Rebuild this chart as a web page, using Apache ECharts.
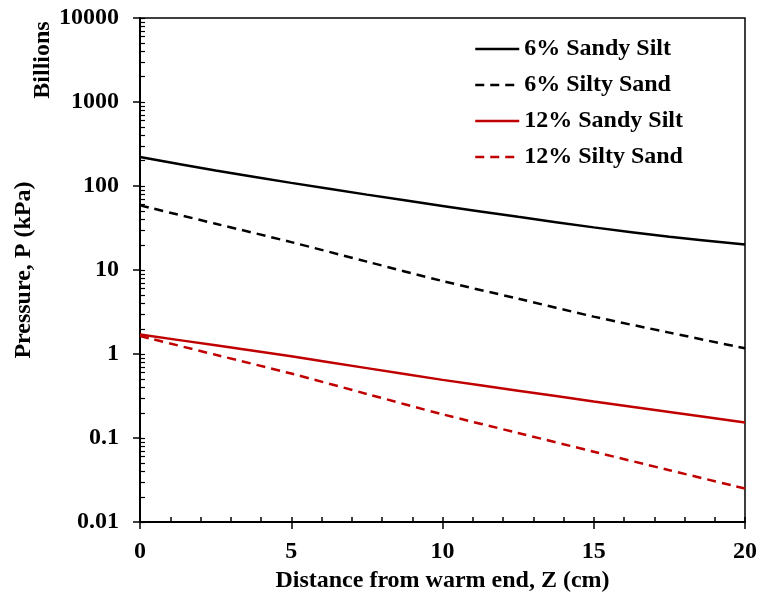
<!DOCTYPE html>
<html>
<head>
<meta charset="utf-8">
<script src="https://cdn.jsdelivr.net/npm/echarts@6/dist/echarts.min.js"></script>
<style>
html,body{margin:0;padding:0;background:#fff;}
#chart{width:760px;height:598px;}
</style>
</head>
<body>
<div id="chart"></div>
<script>
var zValues = [0, 2.5, 5, 7.5, 10, 12.5, 15, 17.5, 20];
var sandySilt6 = [221, 153, 109, 79, 58, 43, 32.2, 24.9, 20.1];
var siltySand6 = [58.9, 35.6, 21.5, 12.6, 7.4, 4.56, 2.79, 1.80, 1.17];
var sandySilt12 = [1.71, 1.27, 0.94, 0.68, 0.493, 0.367, 0.273, 0.205, 0.153];
var siltySand12 = [1.64, 0.98, 0.586, 0.335, 0.192, 0.115, 0.0689, 0.0415, 0.0251];
var seriesNames = ['6% Sandy Silt', '6% Silty Sand', '12% Sandy Silt', '12% Silty Sand'];
var xTicks = [0, 5, 10, 15, 20];
var yTicks = [0.01, 0.1, 1, 10, 100, 1000, 10000];
var yTickLabels = ['0.01', '0.1', '1', '10', '100', '1000', '10000'];

var FONT = 'Liberation Serif';
var FS = 24;
var RED = '#C00000';

function pairs(vals) {
  return zValues.map(function (z, i) { return [z, vals[i]]; });
}

var yMinor = [];
for (var e = -2; e < 4; e++) {
  for (var m = 1; m <= 9; m++) {
    yMinor.push(+(m * Math.pow(10, e)).toPrecision(6));
  }
}
yMinor.push(10000);
var xMinor = [];
for (var k = 0; k <= 20; k++) xMinor.push(k);

var chart = echarts.init(document.getElementById('chart'), null, {renderer: 'canvas'});

function mkSeries(name, vals, color, dashed) {
  return {
    name: name,
    type: 'line',
    data: pairs(vals),
    symbol: 'none',
    smooth: 0.3,
    xAxisIndex: 0,
    yAxisIndex: 0,
    lineStyle: {color: color, width: 2.5, type: dashed ? [9, 6] : 'solid'},
    itemStyle: {color: color},
    animation: false
  };
}

var option = {
  animation: false,
  backgroundColor: '#fff',
  textStyle: {fontFamily: FONT, fontWeight: 'bold', color: '#000'},
  grid: {left: 140, right: 13, top: 18, bottom: 75, show: true, borderColor: '#000', borderWidth: 1.5, backgroundColor: 'transparent'},
  legend: {
    orient: 'vertical',
    left: 474,
    top: 37,
    padding: 0,
    itemWidth: 44,
    itemHeight: 14,
    itemGap: 12,
    data: seriesNames,
    itemStyle: {opacity: 0, borderWidth: 0},
    lineStyle: {width: 2.5},
    textStyle: {fontFamily: FONT, fontWeight: 'bold', fontSize: FS, color: '#000', lineHeight: 24, padding: [0, 0, 0, 0]}
  },
  xAxis: [{
    type: 'value',
    min: 0, max: 20, interval: 5,
    name: 'Distance from warm end, Z (cm)',
    nameLocation: 'middle',
    nameGap: 45,
    nameTextStyle: {fontFamily: FONT, fontWeight: 'bold', fontSize: FS, color: '#000'},
    axisLine: {show: true, onZero: false, lineStyle: {color: '#000', width: 2}},
    axisTick: {show: true, inside: false, length: 7, lineStyle: {color: '#000', width: 1.5}, customValues: xTicks},
    axisLabel: {show: true, margin: 18, fontFamily: FONT, fontWeight: 'bold', fontSize: FS, color: '#000', customValues: xTicks},
    splitLine: {show: false}
  }, {
    type: 'value',
    min: 0, max: 20, interval: 1,
    position: 'bottom',
    axisLine: {show: false, onZero: false},
    axisTick: {show: true, inside: true, length: 5, lineStyle: {color: '#000', width: 1.5}, customValues: xMinor},
    axisLabel: {show: false},
    splitLine: {show: false}
  }],
  yAxis: [{
    type: 'log',
    logBase: 10,
    min: 0.01, max: 10000,
    name: 'Pressure, P (kPa)',
    nameLocation: 'middle',
    nameGap: 104,
    nameTextStyle: {fontFamily: FONT, fontWeight: 'bold', fontSize: FS, color: '#000'},
    axisLine: {show: true, onZero: false, lineStyle: {color: '#000', width: 2}},
    axisTick: {show: true, inside: false, length: 7, lineStyle: {color: '#000', width: 1.5}, customValues: yTicks},
    axisLabel: {
      show: true, margin: 21, fontFamily: FONT, fontWeight: 'bold', fontSize: FS, color: '#000',
      customValues: yTicks,
      formatter: function (v) {
        for (var i = 0; i < yTicks.length; i++) {
          if (Math.abs(Math.log10(v) - Math.log10(yTicks[i])) < 1e-6) return yTickLabels[i];
        }
        return '';
      }
    },
    splitLine: {show: false}
  }, {
    type: 'log',
    logBase: 10,
    min: 0.01, max: 10000,
    position: 'left',
    axisLine: {show: false, onZero: false},
    axisTick: {show: true, inside: true, length: 5, lineStyle: {color: '#000', width: 1.2}, customValues: yMinor},
    axisLabel: {show: false},
    splitLine: {show: false}
  }],
  graphic: [{
    type: 'text',
    x: 43,
    y: 60,
    rotation: Math.PI / 2,
    style: {
      text: 'Billions',
      fontFamily: FONT,
      fontWeight: 'bold',
      fontSize: FS,
      fill: '#000',
      align: 'center',
      verticalAlign: 'middle'
    }
  }],
  series: [
    mkSeries(seriesNames[0], sandySilt6, '#000', false),
    mkSeries(seriesNames[1], siltySand6, '#000', true),
    mkSeries(seriesNames[2], sandySilt12, RED, false),
    mkSeries(seriesNames[3], siltySand12, RED, true)
  ]
};
chart.setOption(option);
</script>
</body>
</html>
